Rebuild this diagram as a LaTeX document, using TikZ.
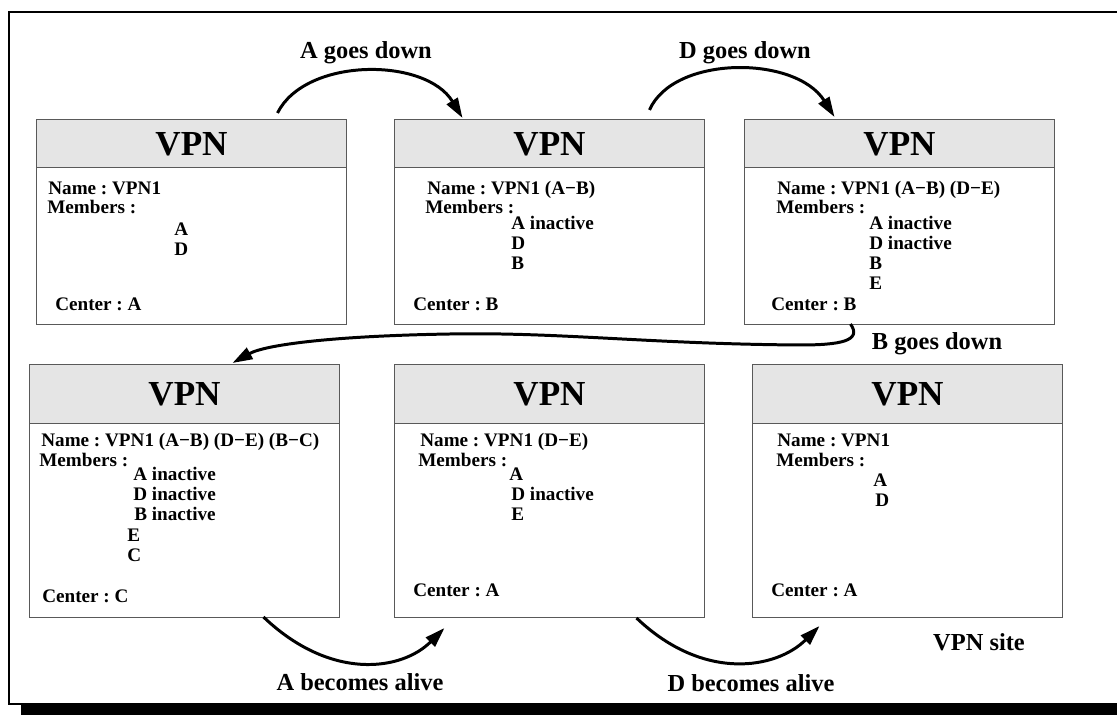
\documentclass[tikz,border=0pt]{standalone}
\usepackage{fontspec}
\setmainfont{Liberation Serif}
\usetikzlibrary{positioning, arrows.meta, calc}
\frenchspacing

\definecolor{headgray}{HTML}{E5E5E5}
\tikzset{
  vpnbox/.style={draw=black!65, line width=0.6pt, minimum width=6.2cm, anchor=north west, inner sep=0pt},
  vpnhead/.style={vpnbox, fill=headgray, font=\bfseries\fontsize{20}{22}\selectfont, text depth=0pt},
  entry/.style={anchor=base west, inner sep=0pt, font=\bfseries\fontsize{10.9}{12}\selectfont},
  lbl/.style={anchor=base, inner sep=0pt, font=\bfseries\fontsize{13.9}{16}\selectfont},
  flow/.style={line width=1.7pt, -{Triangle[length=0.4cm, width=0.25cm]}},
}

\begin{document}
\begin{tikzpicture}[x=0.02cm, y=-0.02cm]
      \useasboundingbox (0,0) rectangle (1117,715);
      \clip (0,0) rectangle (1117,715);
      % frame with shadow
      \fill (21,704) rectangle (1150,720);
      \draw[line width=1.3pt, fill=white] (9,12) rectangle (1140,704);

      % first row
      \node[vpnbox, minimum height=4.1cm] (b1) at (36,119) {};
      \node[vpnhead, minimum height=0.96cm] (h1) at (b1.north west) {VPN};
      \node[entry] (b1n) at (48,195) {Name : VPN1};
      \node[entry] (b1m) at (47,214) {Members :};
      \foreach \m/\x/\y [count=\k] in {A/174/236, D/174/256}
        \node[entry] (b1m\k) at (\x,\y) {\m};
      \node[entry] (b1c) at (55,311) {Center : A};

      \node[vpnbox, minimum height=4.1cm] (b2) at (394,119) {};
      \node[vpnhead, minimum height=0.96cm] (h2) at (b2.north west) {VPN};
      \node[entry] (b2n) at (427,195) {Name : VPN1 (A−B)};
      \node[entry] (b2m) at (425,214) {Members :};
      \foreach \m/\x/\y [count=\k] in {A inactive/511/230, D/511/250, B/511/270}
        \node[entry] (b2m\k) at (\x,\y) {\m};
      \node[entry] (b2c) at (413,311) {Center : B};

      \node[vpnbox, minimum height=4.1cm] (b3) at (744,119) {};
      \node[vpnhead, minimum height=0.96cm] (h3) at (b3.north west) {VPN};
      \node[entry] (b3n) at (777,195) {Name : VPN1 (A−B) (D−E)};
      \node[entry] (b3m) at (776,214) {Members :};
      \foreach \m/\x/\y [count=\k] in {A inactive/869/230, D inactive/869/250, B/869/270, E/869/290}
        \node[entry] (b3m\k) at (\x,\y) {\m};
      \node[entry] (b3c) at (771,311) {Center : B};

      % second row
      \node[vpnbox, minimum height=5.06cm] (b4) at (29,364) {};
      \node[vpnhead, minimum height=1.18cm] (h4) at (b4.north west) {VPN};
      \node[entry] (b4n) at (41,447) {Name : VPN1 (A−B) (D−E) (B−C)};
      \node[entry] (b4m) at (39,467) {Members :};
      \foreach \m/\x/\y [count=\k] in {A inactive/133/481, D inactive/133/501, B inactive/134/521, E/127/542, C/127/562}
        \node[entry] (b4m\k) at (\x,\y) {\m};
      \node[entry] (b4c) at (42,603) {Center : C};

      \node[vpnbox, minimum height=5.06cm] (b5) at (394,364) {};
      \node[vpnhead, minimum height=1.18cm] (h5) at (b5.north west) {VPN};
      \node[entry] (b5n) at (420,447) {Name : VPN1 (D−E)};
      \node[entry] (b5m) at (418,467) {Members :};
      \foreach \m/\x/\y [count=\k] in {A/509/481, D inactive/511/501, E/511/521}
        \node[entry] (b5m\k) at (\x,\y) {\m};
      \node[entry] (b5c) at (413,597) {Center : A};

      \node[vpnbox, minimum height=5.06cm] (b6) at (752,364) {};
      \node[vpnhead, minimum height=1.18cm] (h6) at (b6.north west) {VPN};
      \node[entry] (b6n) at (777,447) {Name : VPN1};
      \node[entry] (b6m) at (776,467) {Members :};
      \foreach \m/\x/\y [count=\k] in {A/873/487, D/875/507}
        \node[entry] (b6m\k) at (\x,\y) {\m};
      \node[entry] (b6c) at (771,597) {Center : A};
      \node[lbl] (site) at (979,651) {VPN site};

      % transitions
      \draw[flow] ($(b1.north)+(86,-6)$) .. controls +(28,-56) and +(-37,-61) .. ($(b2.north)+(-87,-1)$);
      \node[lbl] (l1) at (366,59) {A goes down};
      \draw[flow] ($(b2.north)+(100,-9)$) .. controls +(24,-55) and +(-39,-62) .. ($(b3.north)+(-65,-2)$);
      \node[lbl] (l2) at (745,59) {D goes down};
      \draw[flow] ($(b3.south)+(-49,-1)$) .. controls +(12,17) and +(40,0) .. (800,345)
        .. controls (650,344) and (560,332) .. (450,334)
        .. controls (330,336) and (265,345) .. ($(b4.north)+(48,-1)$);
      \node[lbl] (l3) at (937,350) {B goes down};
      \draw[flow] ($(b4.south)+(79,-1)$) .. controls +(67,64) and +(-43,43) .. ($(b5.south)+(-105,10)$);
      \node[lbl] (l4) at (360,691) {A becomes alive};
      \draw[flow] ($(b5.south)+(87,0)$) .. controls +(67,64) and +(-43,43) .. ($(b6.south)+(-88,8)$);
      \node[lbl] (l5) at (751,692) {D becomes alive};
    \end{tikzpicture}
\end{document}
